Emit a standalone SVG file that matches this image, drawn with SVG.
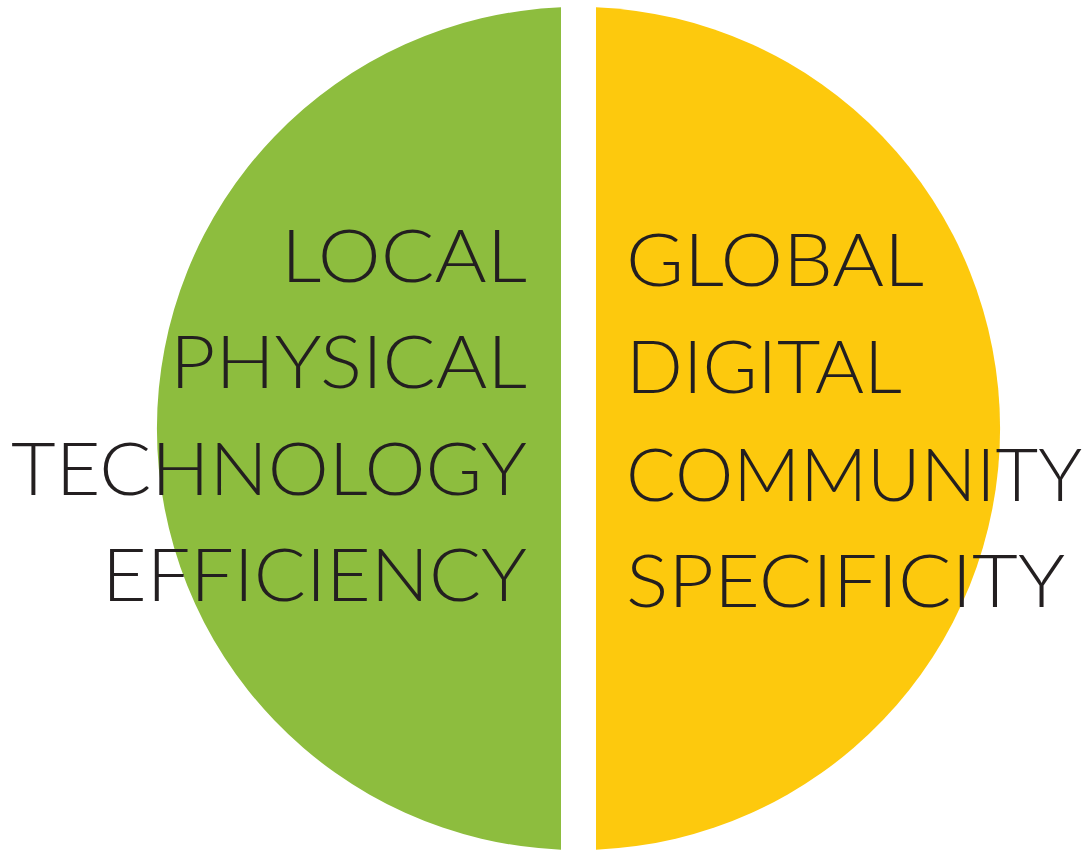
<svg xmlns="http://www.w3.org/2000/svg" width="1084" height="850" viewBox="0 0 1084 850">
  <style>
    .lbl { font-family: "Lato", "Inter", "Liberation Sans", sans-serif; font-weight: 300; font-size: 73px; fill: #231f20; }
    .l { text-anchor: end; }
    .r { text-anchor: start; }
  </style>
  <rect width="1084" height="850" fill="#ffffff"/>
  <g id="left-half">
    <path d="M561,7.36 A421.5,421.5 0 0 0 561,849.64 Z" fill="#8dbd3e"/>
  </g>
  <g id="right-half">
    <path d="M596,7.36 A421.5,421.5 0 0 1 596,849.64 Z" fill="#fdc90d"/>
  </g>
  <g id="left-labels">
    <text class="lbl l" x="527" y="281.5" textLength="246" lengthAdjust="spacingAndGlyphs">LOCAL</text>
    <text class="lbl l" x="527" y="388" textLength="357" lengthAdjust="spacingAndGlyphs">PHYSICAL</text>
    <text class="lbl l" x="527" y="494.7" textLength="516" lengthAdjust="spacingAndGlyphs">TECHNOLOGY</text>
    <text class="lbl l" x="527" y="601.3" textLength="425" lengthAdjust="spacingAndGlyphs">EFFICIENCY</text>
  </g>
  <g id="right-labels">
    <text class="lbl r" x="626" y="286" textLength="298" lengthAdjust="spacingAndGlyphs">GLOBAL</text>
    <text class="lbl r" x="626" y="393" textLength="276" lengthAdjust="spacingAndGlyphs">DIGITAL</text>
    <text class="lbl r" x="626" y="500.7" textLength="456" lengthAdjust="spacingAndGlyphs">COMMUNITY</text>
    <text class="lbl r" x="626" y="606.7" textLength="439" lengthAdjust="spacingAndGlyphs">SPECIFICITY</text>
  </g>
</svg>
